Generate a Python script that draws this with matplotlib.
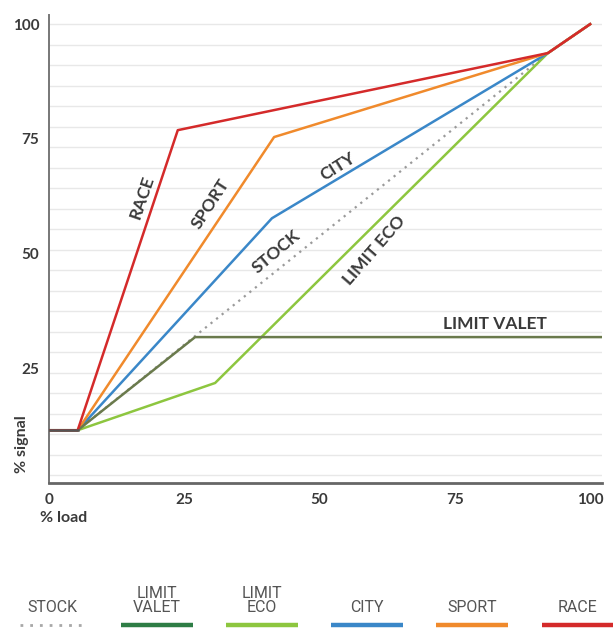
import numpy as np
import matplotlib.pyplot as plt
from matplotlib.ticker import FixedLocator

# Curve data (% load -> % signal)
stock_x = [0, 5.3, 92.2, 100]
stock_y = [11.5, 11.5, 93.7, 100]

valet_x = [0, 5.3, 27, 102]
valet_y = [11.5, 11.5, 31.8, 31.8]

eco_x = [0, 5.3, 30.7, 92.2, 100]
eco_y = [11.5, 11.5, 21.8, 93.7, 100]

city_x = [0, 5.3, 41.2, 92.2, 100]
city_y = [11.5, 11.5, 57.7, 93.7, 100]

sport_x = [0, 5.3, 41.6, 92.2, 100]
sport_y = [11.5, 11.5, 75.4, 93.7, 100]

race_x = [0, 5.3, 23.8, 92.2, 100]
race_y = [11.5, 11.5, 76.9, 93.7, 100]

x_ticks = [0, 25, 50, 75, 100]
y_ticks = [25, 50, 75, 100]

names = ['STOCK', 'LIMIT\nVALET', 'LIMIT\nECO', 'CITY', 'SPORT', 'RACE']
colors = ['#a8a8a8', '#2e7d45', '#8dc63f', '#3a87c8', '#f08a2c', '#d42a2a']

plt.rcParams['font.family'] = ['Lato', 'DejaVu Sans']
txt = '#3a3a3a'

fig = plt.figure(figsize=(6.14, 6.29), dpi=100)
ax = fig.add_axes([49 / 614, 1 - 483 / 629, 553 / 614, 468 / 629])

# light horizontal rules
for g in np.arange(100, 0, -4.47):
    ax.axhline(g, color='#e8e8e8', lw=1.0, zorder=0)

ax.plot(stock_x, stock_y, color='#9a9a9a', lw=1.6, ls=(0, (1, 2.2)), zorder=2)
ax.plot(eco_x, eco_y, color=colors[2], lw=1.8, zorder=3)
ax.plot(city_x, city_y, color=colors[3], lw=1.8, zorder=3)
ax.plot(sport_x, sport_y, color=colors[4], lw=1.8, zorder=3)
ax.plot(race_x, race_y, color=colors[5], lw=1.8, zorder=4)
ax.plot(valet_x, valet_y, color='#6a7a4c', lw=1.8, zorder=3)
ax.plot(valet_x[:2], valet_y[:2], color='#555555', lw=1.8, zorder=5)

ax.set_xlim(0, 102.2)
ax.set_ylim(0, 102)
ax.xaxis.set_major_locator(FixedLocator(x_ticks))
ax.yaxis.set_major_locator(FixedLocator(y_ticks))
ax.tick_params(length=0, labelsize=11, labelcolor=txt, pad=7)
for lab in ax.get_xticklabels() + ax.get_yticklabels():
    lab.set_fontweight('bold')

for s in ['top', 'right']:
    ax.spines[s].set_visible(False)
ax.spines['left'].set_color('#777777')
ax.spines['left'].set_linewidth(1.4)
ax.spines['bottom'].set_color('#666666')
ax.spines['bottom'].set_linewidth(2.0)

# labels on the curves
lab_kw = dict(color=txt, fontsize=12.5, fontweight='bold', ha='center', va='center',
              rotation_mode='anchor')
ax.text(17.2, 62.3, 'RACE', rotation=71, **lab_kw)
ax.text(29.8, 60.8, 'SPORT', rotation=57, **lab_kw)
ax.text(53.4, 69.0, 'CITY', rotation=32, **lab_kw)
ax.text(42.0, 50.3, 'STOCK', rotation=40, **lab_kw)
ax.text(60.2, 50.8, 'LIMIT ECO', rotation=49, **lab_kw)
ax.text(82.4, 34.6, 'LIMIT VALET', rotation=0, **lab_kw)

fig.text(40 / 614, 1 - 518 / 629, '% load', color=txt, fontsize=11.5,
         fontweight='bold', ha='left', va='center')
fig.text(22 / 614, 1 - 444 / 629, '% signal', color=txt, fontsize=11.5,
         fontweight='bold', rotation=90, ha='center', va='center')

# legend row at the bottom
lax = fig.add_axes([0, 0, 1, 45 / 629])
lax.set_xlim(-0.495, 5.35)
lax.set_ylim(0, 45)
lax.axis('off')
for i, (n, c) in enumerate(zip(names, colors)):
    if i == 0:
        lax.plot([i - 0.3, i + 0.3], [4, 4], color=c, lw=2, ls=(0, (1, 2.5)))
    else:
        lax.plot([i - 0.34, i + 0.34], [4, 4], color=c, lw=3.2, solid_capstyle='butt')
    lax.text(i, 14, n, ha='center', va='bottom', fontsize=11.5, color='#555555',
             family=['Roboto', 'DejaVu Sans'], linespacing=0.9)

fig.savefig('out.png', dpi=100)
